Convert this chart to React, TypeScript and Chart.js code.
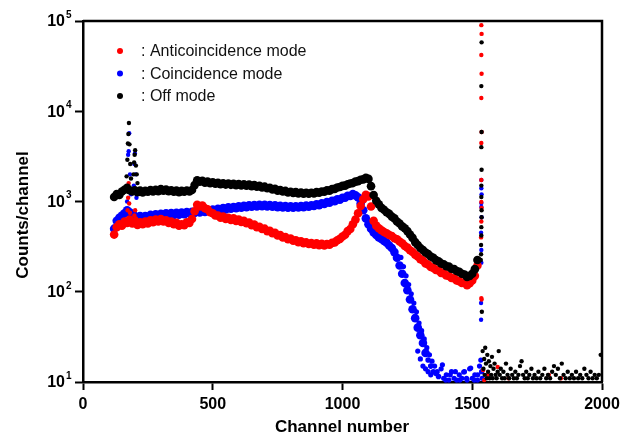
import React, { useEffect, useRef } from "react";
import { Chart, registerables } from "chart.js";

Chart.register(...registerables);

// ---- Data ----
const CHANNELS = [
  120, 130, 140, 150, 160, 170, 180, 190, 200, 210,
  220, 230, 240, 250, 260, 270, 280, 290, 300, 310,
  320, 330, 340, 350, 360, 370, 380, 390, 400, 410,
  420, 430, 440, 450, 460, 470, 480, 490, 500, 510,
  520, 530, 540, 550, 560, 570, 580, 590, 600, 610,
  620, 630, 640, 650, 660, 670, 680, 690, 700, 710,
  720, 730, 740, 750, 760, 770, 780, 790, 800, 810,
  820, 830, 840, 850, 860, 870, 880, 890, 900, 910,
  920, 930, 940, 950, 960, 970, 980, 990, 1000, 1010,
  1020, 1030, 1040, 1050, 1060, 1070, 1080, 1090, 1100, 1110,
  1120, 1130, 1140, 1150, 1160, 1170, 1180, 1190, 1200, 1210,
  1220, 1230, 1240, 1250, 1260, 1270, 1280, 1290, 1300, 1310,
  1320, 1330, 1340, 1350, 1360, 1370, 1380, 1390, 1400, 1410,
  1420, 1430, 1440, 1450, 1460, 1470, 1480, 1490, 1500, 1510,
  1520,
];

const OFF_MODE = [
  1120, 1210, 1180, 1290, 1350, 1420, 1330, 1290, 1330, 1270,
  1320, 1260, 1310, 1280, 1340, 1290, 1350, 1300, 1370, 1320,
  1360, 1300, 1330, 1280, 1320, 1270, 1310, 1280, 1320, 1290,
  1340, 1520, 1720, 1660, 1700, 1620, 1660, 1590, 1630, 1570,
  1610, 1550, 1590, 1540, 1580, 1530, 1570, 1520, 1560, 1510,
  1550, 1500, 1540, 1480, 1520, 1460, 1490, 1430, 1460, 1400,
  1420, 1360, 1380, 1320, 1340, 1290, 1310, 1260, 1280, 1240,
  1270, 1230, 1260, 1220, 1250, 1220, 1250, 1230, 1270, 1250,
  1290, 1280, 1330, 1320, 1370, 1380, 1430, 1450, 1490, 1500,
  1550, 1580, 1600, 1660, 1680, 1740, 1760, 1830, 1780, 1480,
  1180, 1020, 930, 850, 810, 760, 730, 680, 650, 600,
  570, 530, 505, 470, 430, 395, 355, 330, 305, 290,
  272, 262, 246, 238, 224, 218, 206, 202, 192, 190,
  180, 178, 170, 166, 158, 155, 146, 150, 158, 178,
  225,
];

const ANTI_MODE = [
  430, 520, 560, 540, 600, 580, 630, 570, 600, 550,
  590, 560, 600, 570, 620, 590, 630, 600, 640, 600,
  620, 580, 600, 560, 580, 540, 560, 545, 590, 580,
  640, 780, 920, 880, 900, 840, 820, 760, 740, 700,
  700, 660, 680, 640, 660, 625, 650, 610, 630, 595,
  610, 575, 585, 545, 555, 520, 525, 495, 500, 470,
  475, 445, 450, 420, 425, 400, 405, 382, 388, 368,
  372, 355, 362, 345, 352, 338, 346, 332, 344, 328,
  340, 326, 338, 332, 348, 352, 372, 385, 410, 428,
  470, 495, 560, 630, 740, 890, 1060, 1190, 1140, 880,
  610, 540, 505, 480, 460, 445, 425, 415, 392, 382,
  360, 345, 322, 308, 288, 276, 258, 246, 230, 222,
  206, 200, 188, 184, 174, 172, 162, 160, 152, 150,
  142, 141, 133, 131, 125, 126, 118, 124, 133, 150,
  195,
];

// null = no dense band there (sparse points listed in COIN_SCATTER)
const COIN_MODE = [
  500, 610, 660, 700, 740, 800, 760, 720, 690, 660,
  690, 650, 690, 670, 710, 680, 720, 690, 730, 700,
  740, 705, 745, 710, 750, 715, 755, 725, 765, 735,
  770, 745, 785, 755, 795, 765, 805, 775, 815, 790,
  830, 800, 845, 815, 860, 830, 870, 845, 885, 855,
  895, 865, 905, 875, 915, 880, 920, 885, 920, 880,
  915, 875, 905, 865, 895, 860, 890, 855, 885, 855,
  885, 860, 890, 865, 900, 875, 910, 890, 930, 910,
  955, 940, 985, 970, 1020, 1010, 1060, 1050, 1100, 1100,
  1160, 1150, 1210, 1170, 1110, 950, 800, 650, 560, 500,
  455, 425, 400, 385, 365, 350, 325, 305, 275, 238,
  195, 158, 125, 104, 82, 64, 51, 40, 33, 27,
  21, 17.5, 15, 13, 12.5, 11.5, null, null, null, null,
  null, null, null, null, null, null, null, null, null, null,
  null,
];

// [channel, counts] extra points: peaks and sparse regions
const OFF_LOW_PEAK: [number, number][] = [
  [168, 1900], [171, 2900], [173, 4400], [175, 5600], [177, 7400], [179, 4300],
  [182, 2600], [185, 1800], [195, 2000], [197, 2700], [199, 3300], [201, 3700],
  [204, 2500], [207, 2000], [210, 1600],
];
const OFF_HIGH_PEAK: [number, number][] = [
  [1533, 225], [1534, 260], [1534, 330], [1535, 420], [1535, 520], [1536, 670],
  [1536, 800], [1535, 1120], [1535, 1500], [1536, 2250], [1535, 4000], [1536, 5900],
  [1535, 19000], [1536, 58000], [1537, 60],
];
const OFF_TAIL: [number, number][] = [
  [1540, 22], [1543, 14], [1546, 18], [1548, 12], [1550, 24], [1553, 16], [1556, 11],
  [1558, 20], [1561, 13], [1564, 17], [1567, 11], [1570, 15], [1573, 12], [1576, 19],
  [1579, 11], [1582, 14], [1586, 16], [1590, 12], [1594, 11], [1598, 13], [1602, 22],
  [1606, 12], [1610, 14], [1615, 11], [1620, 13], [1625, 11], [1630, 16], [1636, 12],
  [1642, 11], [1648, 14], [1654, 12], [1660, 11], [1666, 13], [1672, 11], [1678, 12],
  [1684, 15], [1690, 17], [1696, 12], [1702, 11], [1708, 13], [1714, 11], [1720, 12],
  [1728, 14], [1734, 11], [1740, 12], [1748, 11], [1755, 13], [1762, 11], [1770, 12],
  [1778, 14], [1785, 11], [1792, 12], [1800, 11], [1808, 13], [1815, 15], [1822, 12],
  [1830, 14], [1838, 11], [1845, 16], [1852, 12], [1860, 11], [1868, 13], [1876, 11],
  [1884, 12], [1892, 11], [1900, 13], [1908, 11], [1916, 12], [1924, 11], [1932, 14],
  [1940, 12], [1948, 11], [1956, 13], [1964, 11], [1972, 12], [1980, 11], [1988, 12],
  [1995, 20],
];

const ANTI_LOW_PEAK: [number, number][] = [
  [172, 800], [174, 1100], [176, 1600], [178, 950], [181, 750], [198, 700], [201, 800], [204, 650],
];
const ANTI_HIGH_PEAK: [number, number][] = [
  [1534, 400], [1535, 600], [1536, 850], [1535, 990], [1535, 1730], [1535, 4450],
  [1536, 5900], [1535, 14000], [1536, 26000], [1535, 42000], [1536, 72000], [1535, 90000],
  [1535, 85], [1536, 82],
];
const ANTI_TAIL: [number, number][] = [
  [1542, 13.6], [1546, 10.5], [1560, 12], [1598, 14.7], [1640, 11], [1795, 12], [1842, 11],
];

const COIN_LOW_PEAK: [number, number][] = [
  [170, 1000], [172, 1500], [174, 3300], [176, 3600], [178, 5700], [181, 2000],
  [185, 1200], [196, 1500], [198, 2600], [200, 3400], [203, 2000], [206, 1100],
];
const COIN_HIGH_PEAK: [number, number][] = [
  [1534, 49], [1534, 75], [1535, 210], [1535, 290], [1534, 450], [1536, 670],
  [1535, 870], [1535, 960], [1536, 1200], [1535, 1400], [1535, 1730],
];
const COIN_SCATTER: [number, number][] = [
  [1225, 240], [1235, 190], [1245, 150], [1255, 120], [1265, 95], [1275, 75], [1285, 60],
  [1295, 45], [1305, 37], [1315, 30], [1325, 24], [1335, 20], [1345, 17], [1355, 15],
  [1365, 13], [1290, 22], [1300, 18], [1310, 15], [1320, 14], [1330, 13], [1340, 12],
  [1380, 14], [1385, 15.5], [1390, 11], [1398, 10.5], [1400, 12], [1410, 10.5],
  [1415, 12], [1420, 13], [1430, 11], [1435, 13], [1440, 10.5], [1450, 12],
  [1452, 10.5], [1460, 11], [1467, 12.9], [1470, 13], [1478, 11], [1480, 10.5],
  [1490, 14], [1494, 14.3], [1500, 11], [1508, 10.5], [1510, 12], [1520, 10.5],
  [1521, 12], [1528, 15], [1533, 17.5], [1536, 13], [1538, 11],
];

const X_TICKS = [0, 500, 1000, 1500, 2000];
const Y_EXPONENTS = [1, 2, 3, 4, 5];
const LEGEND_LABELS = [": Anticoincidence mode", ": Coincidence mode", ": Off mode"];
const X_TITLE = "Channel number";
const Y_TITLE = "Counts/channel";

const RED = "#ff0000";
const BLUE = "#0000ff";
const BLACK = "#000000";
const FONT = "'Liberation Sans', Arial, Helvetica, sans-serif";

function fromArrays(xs: number[], ys: (number | null)[]) {
  return xs
    .map((x, i) => ({ x, y: ys[i] as number }))
    .filter((p) => p.y !== null && p.y !== undefined);
}
function fromPairs(p: [number, number][]) {
  return p.map(([x, y]) => ({ x, y }));
}

function ds(label: string, data: { x: number; y: number }[], color: string, r: any) {
  return {
    label,
    data,
    backgroundColor: color,
    borderColor: color,
    pointRadius: r,
    pointBorderWidth: 0,
    pointHoverRadius: r,
    showLine: false,
    clip: false as const,
  };
}

const decorPlugin = {
  id: "decor",
  beforeDatasetsDraw(chart: any) {
    const { ctx, chartArea } = chart;
    ctx.save();
    ctx.strokeStyle = "#000";
    ctx.lineWidth = 2.5;
    ctx.beginPath();
    ctx.moveTo(chartArea.left, chartArea.top);
    ctx.lineTo(chartArea.right, chartArea.top);
    ctx.lineTo(chartArea.right, chartArea.bottom);
    ctx.stroke();
    ctx.restore();
  },
  afterDraw(chart: any) {
    const { ctx, scales } = chart;
    const y = scales.y;
    ctx.save();
    ctx.fillStyle = "#000";
    // y tick labels with superscript exponent
    Y_EXPONENTS.forEach((e) => {
      const py = y.getPixelForValue(Math.pow(10, e));
      ctx.font = `bold 16px ${FONT}`;
      ctx.textAlign = "right";
      ctx.textBaseline = "middle";
      ctx.fillText("10", 65, py + 1);
      ctx.font = `bold 10px ${FONT}`;
      ctx.textAlign = "left";
      ctx.fillText(String(e), 66, py - 6);
    });
    // axis titles
    ctx.font = `bold 17px ${FONT}`;
    ctx.textAlign = "center";
    ctx.textBaseline = "middle";
    ctx.fillText(X_TITLE, 342, 427);
    ctx.save();
    ctx.translate(23, 215);
    ctx.rotate(-Math.PI / 2);
    ctx.fillText(Y_TITLE, 0, 0);
    ctx.restore();
    // legend
    const colors = [RED, BLUE, BLACK];
    LEGEND_LABELS.forEach((t, i) => {
      const cy = 51 + i * 22.5;
      ctx.fillStyle = colors[i];
      ctx.beginPath();
      ctx.arc(120, cy, 3, 0, Math.PI * 2);
      ctx.fill();
      ctx.fillStyle = "#111";
      ctx.font = `16px ${FONT}`;
      ctx.textAlign = "left";
      ctx.textBaseline = "middle";
      ctx.fillText(t, 141, cy + 1);
    });
    ctx.restore();
  },
};

export default function App() {
  const ref = useRef<HTMLCanvasElement | null>(null);
  useEffect(() => {
    if (!ref.current) return;
    const gridOpts = {
      display: true,
      drawOnChartArea: false,
      drawTicks: true,
      tickLength: 8,
      tickWidth: 2,
      tickColor: "#000",
    };
    // dense bands drawn with large dots; sparse low-count points smaller
    const BAND = (c: any) => {
      const v = c.raw && c.raw.y;
      return v !== undefined && v < 20 ? 2.8 : 4.3;
    };
    const DOT = 2.2;
    const chart = new Chart(ref.current, {
      type: "scatter",
      data: {
        datasets: [
          ds("Off mode", fromArrays(CHANNELS, OFF_MODE), BLACK, BAND),
          ds("Off peak 1", fromPairs(OFF_LOW_PEAK), BLACK, DOT),
          ds("Off peak 2", fromPairs(OFF_HIGH_PEAK), BLACK, DOT),
          ds("Off tail", fromPairs(OFF_TAIL), BLACK, DOT),
          ds("Anticoincidence mode", fromArrays(CHANNELS, ANTI_MODE), RED, BAND),
          ds("Anti peak 1", fromPairs(ANTI_LOW_PEAK), RED, DOT),
          ds("Anti peak 2", fromPairs(ANTI_HIGH_PEAK), RED, DOT),
          ds("Anti tail", fromPairs(ANTI_TAIL), RED, DOT),
          ds("Coincidence mode", fromArrays(CHANNELS, COIN_MODE), BLUE, BAND),
          ds("Coin peak 1", fromPairs(COIN_LOW_PEAK), BLUE, DOT),
          ds("Coin peak 2", fromPairs(COIN_HIGH_PEAK), BLUE, DOT),
          ds("Coin scatter", fromPairs(COIN_SCATTER), BLUE, 2.6),
        ] as any,
      },
      options: {
        responsive: false,
        animation: false,
        layout: { padding: { left: 0, right: 33, top: 21, bottom: 0 } },
        plugins: { legend: { display: false }, tooltip: { enabled: false } },
        scales: {
          x: {
            type: "linear",
            min: 0,
            max: 2000,
            afterFit: (s: any) => {
              s.height = 55;
            },
            afterBuildTicks: (s: any) => {
              s.ticks = X_TICKS.map((v) => ({ value: v }));
            },
            ticks: {
              font: { family: FONT, size: 16, weight: "bold" },
              color: "#000",
              padding: 5,
              maxRotation: 0,
              callback: (v: any) => String(v),
            },
            grid: gridOpts,
            border: { display: true, color: "#000", width: 2.5 },
          },
          y: {
            type: "logarithmic",
            min: 10,
            max: 100000,
            afterFit: (s: any) => {
              s.width = 83;
            },
            afterBuildTicks: (s: any) => {
              s.ticks = Y_EXPONENTS.map((e) => ({ value: Math.pow(10, e), major: true }));
            },
            ticks: { display: false },
            grid: gridOpts,
            border: { display: true, color: "#000", width: 2.5 },
          },
        } as any,
      },
      plugins: [decorPlugin],
    });
    return () => chart.destroy();
  }, []);
  return (
    <div style={{ position: "fixed", left: 0, top: 0, width: 635, height: 437, background: "#fff" }}>
      <canvas ref={ref} width={635} height={437} style={{ width: 635, height: 437, display: "block" }} />
    </div>
  );
}
